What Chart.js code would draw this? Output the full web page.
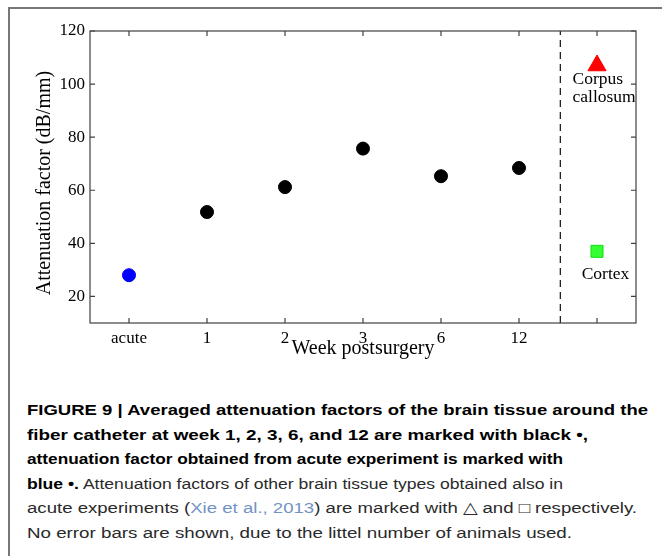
<!DOCTYPE html>
<html>
<head>
<meta charset="utf-8">
<script src="https://cdn.jsdelivr.net/npm/chart.js@4"></script>
<style>
  body { margin: 0; background: #fff; }
  #wrap { position: relative; width: 662px; height: 556px; overflow: hidden; }
  #rahmen { position: absolute; left: 8px; top: 7px; width: 700px; height: 600px;
            border-left: 2px solid #777; border-top: 2px solid #777; }
  #graf { position: absolute; left: 0; top: 0; }
  .radek { position: absolute; left: 27px; font-family: "Liberation Sans", Arial, sans-serif;
           font-size: 15.5px; line-height: 15.5px; color: #2a2a2a; white-space: nowrap;
           transform-origin: 0 0; }
  .radek b { color: #000; }
  .odkaz { color: #7393c4; }
</style>
</head>
<body>
<div id="wrap">
  <div id="rahmen"></div>
  <canvas id="graf" width="662" height="370"></canvas>
  <div class="radek" style="top:402px" data-w="621"><b>FIGURE 9 | Averaged attenuation factors of the brain tissue around the</b></div>
  <div class="radek" style="top:426.5px" data-w="561"><b>fiber catheter at week 1, 2, 3, 6, and 12 are marked with black •,</b></div>
  <div class="radek" style="top:451px" data-w="536"><b>attenuation factor obtained from acute experiment is marked with</b></div>
  <div class="radek" style="top:475.5px" data-w="536"><b>blue •.</b> Attenuation factors of other brain tissue types obtained also in</div>
  <div class="radek" style="top:500px" data-w="610">acute experiments (<span class="odkaz">Xie et al., 2013</span>) are marked with △ and □ respectively.</div>
  <div class="radek" style="top:524.5px" data-w="545">No error bars are shown, due to the littel number of animals used.</div>
</div>
<script>
// --- DATA ---
const xPozice = [1, 2, 3, 4, 5, 6, 7];
const xPopisky = ['acute', '1', '2', '3', '6', '12', ''];
const yTicky = [20, 40, 60, 80, 100, 120];

const akutniX = [1];
const akutniY = [28];
const tydnyX = [2, 3, 4, 5, 6];
const tydnyY = [51.8, 61.2, 75.7, 65.3, 68.4];

const tkanX = 7;
const corpusY = 107;
const cortexY = 37;
const delitkoX = 6.53;

const serif = 'Liberation Serif, Times New Roman, serif';

// --- KRABICE A TICKY DOVNITR (matlab styl) ---
const krabice = {
    id: 'krabice',
    afterDraw(chart) {
        const { ctx, chartArea: a, scales } = chart;
        ctx.save();
        ctx.strokeStyle = '#404040';
        ctx.lineWidth = 1.2;
        ctx.strokeRect(a.left, a.top, a.right - a.left, a.bottom - a.top);
        ctx.beginPath();
        scales.x.ticks.forEach(t => {
            const px = scales.x.getPixelForValue(t.value);
            ctx.moveTo(px, a.bottom); ctx.lineTo(px, a.bottom - 5);
            ctx.moveTo(px, a.top); ctx.lineTo(px, a.top + 5);
        });
        scales.y.ticks.forEach(t => {
            const py = scales.y.getPixelForValue(t.value);
            ctx.moveTo(a.left, py); ctx.lineTo(a.left + 5, py);
            ctx.moveTo(a.right, py); ctx.lineTo(a.right - 5, py);
        });
        ctx.stroke();

        // popisek osy y (trochu niz nez stred, jako v originale)
        ctx.fillStyle = '#000';
        ctx.save();
        ctx.translate(45, (a.top + a.bottom) / 2 + 6);
        ctx.rotate(-Math.PI / 2);
        ctx.font = '20px ' + serif;
        ctx.textAlign = 'center';
        ctx.textBaseline = 'middle';
        ctx.fillText('Attenuation factor (dB/mm)', 0, 0);
        ctx.restore();

        // popisky tkani
        const tx = scales.x.getPixelForValue(tkanX);
        const cy = scales.y.getPixelForValue(corpusY);
        const ky = scales.y.getPixelForValue(cortexY);
        ctx.font = '17.5px ' + serif;
        ctx.textBaseline = 'middle';
        ctx.textAlign = 'left';
        ctx.fillText('Corpus', tx - 24.5, cy + 14);
        ctx.fillText('callosum', tx - 24.5, cy + 32);
        ctx.textAlign = 'center';
        ctx.fillText('Cortex', tx + 8.5, ky + 23);
        ctx.restore();
    }
};

const graf = new Chart(document.getElementById('graf'), {
    type: 'scatter',
    data: {
        datasets: [
            {
                data: [{ x: delitkoX, y: 10 }, { x: delitkoX, y: 120 }],
                showLine: true, pointRadius: 0,
                borderColor: '#222', borderWidth: 1.3, borderDash: [7, 5]
            },
            {
                data: akutniX.map((x, i) => ({ x, y: akutniY[i] })),
                pointStyle: 'circle', pointRadius: 6.5,
                backgroundColor: '#0000ff', borderColor: '#0000ff', borderWidth: 1
            },
            {
                data: tydnyX.map((x, i) => ({ x, y: tydnyY[i] })),
                pointStyle: 'circle', pointRadius: 6.5,
                backgroundColor: '#000', borderColor: '#000', borderWidth: 1
            },
            {
                data: [{ x: tkanX, y: corpusY }],
                pointStyle: 'triangle', pointRadius: 10.5,
                backgroundColor: '#ff0000', borderColor: '#ff0000', borderWidth: 1
            },
            {
                data: [{ x: tkanX, y: cortexY }],
                pointStyle: 'rect', pointRadius: 8.5,
                backgroundColor: '#33ff33', borderColor: '#11dd11', borderWidth: 1
            }
        ]
    },
    options: {
        responsive: false,
        animation: false,
        devicePixelRatio: 1,
        layout: { padding: { left: 0, right: 26, top: 31, bottom: 0 } },
        plugins: { legend: { display: false }, tooltip: { enabled: false } },
        scales: {
            x: {
                type: 'linear', min: 0.5, max: 7.5,
                grid: { display: false, drawTicks: false },
                border: { display: false },
                afterBuildTicks: s => { s.ticks = xPozice.map(v => ({ value: v })); },
                afterFit: s => { s.height = 47; },
                ticks: {
                    color: '#000', padding: 5.5, maxRotation: 0, autoSkip: false,
                    font: { family: serif, size: 17 },
                    callback: v => xPopisky[xPozice.indexOf(v)] ?? ''
                },
                title: {
                    display: true, text: 'Week postsurgery', color: '#000',
                    font: { family: serif, size: 20 }, padding: { top: 0, bottom: 9 }
                }
            },
            y: {
                type: 'linear', min: 10, max: 120,
                grid: { display: false, drawTicks: false },
                border: { display: false },
                afterBuildTicks: s => { s.ticks = yTicky.map(v => ({ value: v })); },
                afterFit: s => { s.width = 90; },
                ticks: { color: '#000', padding: 5, font: { family: serif, size: 17 } },
                title: { display: false }
            }
        }
    },
    plugins: [krabice]
});

// --- popisek pod grafem: roztahnout radky na sirku originalu ---
document.querySelectorAll('.radek').forEach(el => {
    const sirka = el.getBoundingClientRect().width;
    const cil = parseFloat(el.dataset.w);
    el.style.transform = 'scaleX(' + (cil / sirka) + ')';
});
</script>
</body>
</html>
